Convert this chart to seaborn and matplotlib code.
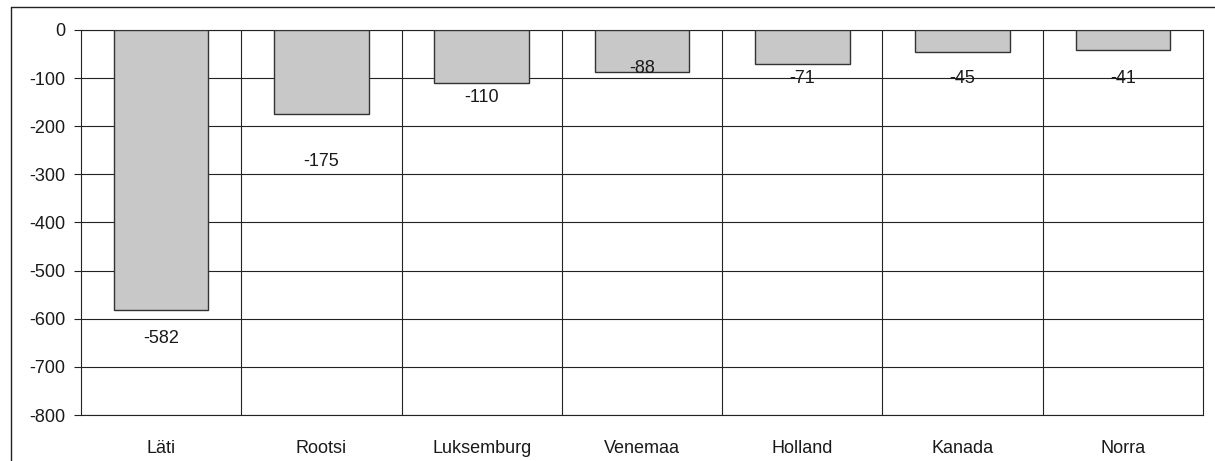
import seaborn as sns
import pandas as pd
import matplotlib.pyplot as plt
from matplotlib.ticker import FixedLocator

# Data
countries = ['Läti', 'Rootsi', 'Luksemburg', 'Venemaa', 'Holland', 'Kanada', 'Norra']
values = [-582, -175, -110, -88, -71, -45, -41]
# where each value label sits (data units), as in the original
label_pos = [-640, -274, -141, -79, -100, -100, -100]

df = pd.DataFrame({'country': countries, 'value': values})

sns.set_style('white')
plt.rcParams['font.family'] = ['Liberation Sans', 'DejaVu Sans']
plt.rcParams['axes.unicode_minus'] = False

fig = plt.figure(figsize=(12.15, 4.61), dpi=100)
ax = fig.add_axes([81 / 1215, 1 - 415 / 461, (1203 - 81) / 1215, (415 - 30) / 461])

sns.barplot(data=df, x='country', y='value', color='#c8c8c8', saturation=1,
            width=0.59, edgecolor='#333333', linewidth=1, ax=ax, zorder=3)

ax.set_ylim(-800, 0)
ax.set_xlim(-0.5, len(countries) - 0.5)
ax.set_yticks(range(-800, 1, 100))
ax.xaxis.set_minor_locator(FixedLocator([i + 0.5 for i in range(len(countries) - 1)]))
ax.grid(axis='y', which='major', color='#222222', linewidth=0.8, zorder=0)
ax.grid(axis='x', which='minor', color='#222222', linewidth=0.8, zorder=0)
ax.set_axisbelow(True)

for i, (v, y) in enumerate(zip(values, label_pos)):
    ax.text(i, y, str(v), ha='center', va='center', fontsize=13, color='#1a1a1a', zorder=4)

ax.set_xlabel('')
ax.set_ylabel('')
ax.tick_params(axis='y', which='major', length=5, width=0.8, color='#222222',
               labelsize=13, labelcolor='#1a1a1a', pad=6, left=True)
ax.tick_params(axis='x', which='both', length=0, labelsize=13, labelcolor='#1a1a1a', pad=18)
for s in ax.spines.values():
    s.set_color('#222222')
    s.set_linewidth(0.8)
    s.set_visible(True)

# outer frame around the chart area
fig.add_artist(plt.Line2D([11 / 1215, 1.0], [1 - 7 / 461] * 2, color='#222222', linewidth=1))
fig.add_artist(plt.Line2D([11 / 1215] * 2, [0, 1 - 7 / 461], color='#222222', linewidth=1))

fig.savefig('out.png', dpi=100)
